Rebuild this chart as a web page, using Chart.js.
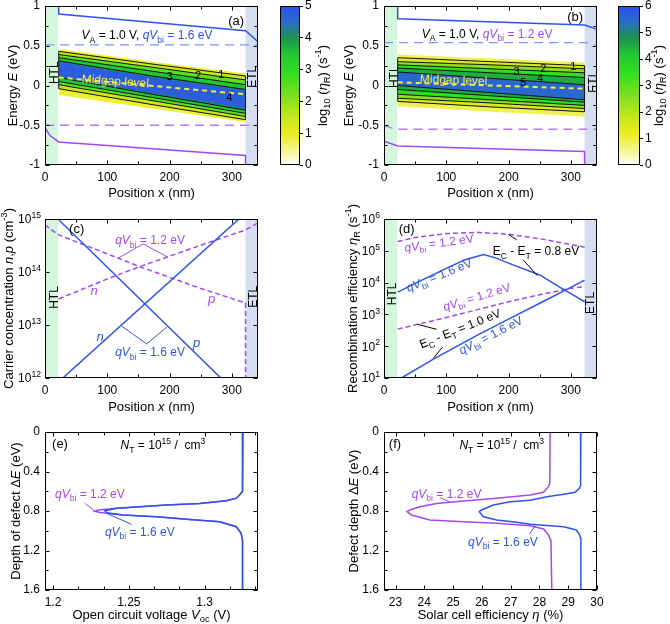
<!DOCTYPE html>
<html><head><meta charset="utf-8">
<script src="https://cdn.jsdelivr.net/npm/chart.js@4.4.1/dist/chart.umd.min.js"></script>
<style>
html,body{margin:0;padding:0;background:#fff;width:670px;height:624px;overflow:hidden}
canvas{position:absolute;left:0;top:0}
</style></head><body>
<canvas id="pa" width="670" height="624"></canvas>
<canvas id="pb" width="670" height="624"></canvas>
<canvas id="pc" width="670" height="624"></canvas>
<canvas id="pd" width="670" height="624"></canvas>
<canvas id="pe" width="670" height="624"></canvas>
<canvas id="pf" width="670" height="624"></canvas>
<canvas id="cba" width="670" height="624"></canvas>
<canvas id="cbb" width="670" height="624"></canvas>
<script>
// ---------------- DATA ----------------
// shared axes
const posTicks = [0, 100, 200, 300];
const posMinor = [50, 150, 250];
const energyTicks = [-1, -0.5, 0, 0.5, 1];
const energyMinor = [-0.75, -0.25, 0.25, 0.75];
const htlRange = [0, 21];
const etlRange = [322, 342];

// (a)/(b) contour bands of log10(eta_R): E position of each level at x = bandX
const bandX = [22, 172, 322];
const aLevels = [0.3, 1, 2, 3, 4, 4.5];
const aUpper = [[0.46, 0.30, 0.15], [0.43, 0.27, 0.12], [0.39, 0.23, 0.07], [0.35, 0.18, 0.01], [0.31, 0.12, -0.05], [0.29, 0.10, -0.07]];
const aLower = [[-0.12, -0.29, -0.46], [-0.04, -0.24, -0.43], [0.01, -0.19, -0.39], [0.05, -0.15, -0.35], [0.10, -0.11, -0.31], [0.12, -0.09, -0.28]];
const bLevels = [0.3, 1, 2, 3, 4, 5];
const bUpper = [[0.39, 0.34, 0.29], [0.35, 0.30, 0.25], [0.30, 0.26, 0.21], [0.26, 0.21, 0.16], [0.22, 0.16, 0.10], [0.17, 0.09, 0.01]];
const bLower = [[-0.26, -0.33, -0.39], [-0.20, -0.27, -0.33], [-0.16, -0.22, -0.29], [-0.11, -0.18, -0.25], [-0.05, -0.13, -0.21], [0.00, -0.09, -0.18]];

// (a) band edges
const aEcX = [22, 22, 322, 345], aEcY = [1.05, 0.90, 0.69, 0.53];
const aEvX = [0, 8, 22, 322, 322], aEvY = [-0.53, -0.63, -0.71, -0.88, -1.05];
const aEcDashX = [0, 345], aEcDashY = [0.51, 0.51];
const aEvDashX = [0, 345], aEvDashY = [-0.50, -0.50];
const aMidX = [22, 322], aMidY = [0.10, -0.11];
// (b) band edges
const bEcX = [22, 22, 322, 345], bEcY = [1.05, 0.84, 0.76, 0.70];
const bEvX = [0, 22, 322, 322], bEvY = [-0.70, -0.76, -0.83, -1.05];
const bEcDashX = [0, 322, 335, 345], bEcDashY = [0.54, 0.54, 0.52, 0.49];
const bEvDashX = [0, 10, 22, 345], bEvDashY = [-0.50, -0.53, -0.55, -0.55];
const bMidX = [22, 322], bMidY = [0.04, -0.04];

// (c) carrier concentration
const cDecades = [12, 13, 14, 15];
const cN16X = [22, 322], cN16Y = [8.5e11, 1.3e15];
const cP16X = [22, 322], cP16Y = [9.7e14, 3.5e11];
const cN12X = [22, 100, 152, 250, 322, 342], cN12Y = [3.1e13, 7.4e13, 1.26e14, 3.2e14, 6.2e14, 8.5e14];
const cP12X = [0, 10, 22, 100, 152, 250, 322, 322], cP12Y = [7.8e14, 6.3e14, 5.0e14, 2.2e14, 1.26e14, 4.9e13, 2.6e13, 5e11];

// (d) recombination efficiency
const dDecades = [1, 2, 3, 4, 5, 6];
const dTop12X = [22, 50, 100, 150, 200, 250, 300, 322];
const dTop12Y = [1.95e5, 2.63e5, 3.47e5, 3.8e5, 3.31e5, 2.4e5, 1.58e5, 1.29e5];
const dTop16X = [22, 50, 100, 130, 160, 180, 200, 250, 280, 300, 322];
const dTop16Y = [5.0e3, 9.5e3, 2.8e4, 5.2e4, 7.6e4, 5.9e4, 4.1e4, 1.74e4, 7.6e3, 4.5e3, 2.5e3];
const dBot12X = [22, 100, 150, 200, 250, 300, 322];
const dBot12Y = [347, 794, 1413, 2512, 4169, 6607, 7413];
const dBot16X = [22, 28, 80, 150, 200, 250, 300, 322];
const dBot16Y = [8.3, 10, 39.8, 224, 708, 2239, 7079, 12023];

// (e) open circuit voltage vs defect depth
const depthTicks = [0, 0.4, 0.8, 1.2, 1.6];
const depthMinor = [0.2, 0.6, 1.0, 1.4];
const vocTicks = [1.2, 1.25, 1.3];
const vocMinor = [1.2167, 1.2333, 1.2667, 1.2833, 1.3167, 1.3333];
const eBlueV = [1.3252, 1.3250, 1.3230, 1.3209, 1.3143, 1.2967, 1.2748, 1.2572, 1.2419, 1.2342, 1.2353, 1.2463, 1.2682, 1.2901, 1.3099, 1.3209, 1.3241, 1.3250, 1.3250];
const eBlueE = [0, 0.60, 0.638, 0.67, 0.696, 0.723, 0.74, 0.757, 0.773, 0.797, 0.817, 0.84, 0.858, 0.885, 0.908, 0.959, 1.026, 1.1, 1.6];
const ePurpV = [1.3252, 1.3250, 1.3230, 1.3209, 1.3143, 1.2967, 1.2748, 1.2572, 1.2400, 1.2300, 1.2276, 1.2310, 1.2400, 1.2463, 1.2682, 1.2901, 1.3099, 1.3209, 1.3241, 1.3250, 1.3250];
const ePurpE = [0, 0.60, 0.638, 0.67, 0.696, 0.723, 0.74, 0.757, 0.775, 0.79, 0.803, 0.815, 0.83, 0.84, 0.858, 0.885, 0.908, 0.959, 1.026, 1.1, 1.6];

// (f) efficiency vs defect depth
const etaTicks = [23, 24, 25, 26, 27, 28, 29, 30];
const fBlueEta = [29.44, 29.43, 29.39, 29.24, 28.84, 28.26, 27.68, 26.98, 26.40, 25.99, 25.91, 26.05, 26.52, 27.21, 27.68, 28.84, 29.28, 29.39, 29.44, 29.44];
const fBlueE = [0, 0.54, 0.57, 0.61, 0.63, 0.655, 0.69, 0.706, 0.74, 0.79, 0.807, 0.858, 0.891, 0.915, 0.935, 0.959, 0.992, 1.04, 1.08, 1.6];
const fPurpEta = [28.37, 28.36, 28.31, 28.14, 27.68, 26.52, 25.35, 24.43, 23.84, 23.50, 23.40, 23.55, 24.19, 25.35, 26.52, 27.68, 28.14, 28.31, 28.40, 28.43];
const fPurpE = [0, 0.52, 0.554, 0.61, 0.638, 0.672, 0.699, 0.723, 0.757, 0.79, 0.807, 0.84, 0.89, 0.908, 0.925, 0.949, 0.982, 1.04, 1.1, 1.6];

// colour bars
const cbATicks = [0, 1, 2, 3, 4, 5];
const cbBTicks = [0, 1, 2, 3, 4, 5, 6];

// ---------------- STYLE ----------------
const FONT = '"Liberation Sans", Arial, Helvetica, sans-serif';
const BLUE = '#2e55e8', PURPLE = '#a449f0', LBLUE = '#7d97f2', LPURP = '#b47cf3', YEL = '#f2ee3a', BLACK = '#000';
const HTL_COL = '#d3f6dc', ETL_COL = '#d6dff1';
const CMAP = [[0, '#ffffff'], [0.08, '#f6f69c'], [0.2, '#ecec1e'], [0.3, '#c6e61e'], [0.42, '#86e01e'], [0.58, '#30df1e'], [0.7, '#22c534'], [0.8, '#1b9450'], [0.9, '#2a6cc8'], [1, '#2c4ef0']];

function hex2rgb(h) { return [1, 3, 5].map(i => parseInt(h.slice(i, i + 2), 16)); }
function cmap(t) {
  t = Math.max(0, Math.min(1, t));
  for (let i = 1; i < CMAP.length; i++) {
    if (t <= CMAP[i][0]) {
      const [t0, c0] = CMAP[i - 1], [t1, c1] = CMAP[i];
      const f = (t - t0) / (t1 - t0), a = hex2rgb(c0), b = hex2rgb(c1);
      return 'rgb(' + a.map((v, k) => Math.round(v + (b[k] - v) * f)).join(',') + ')';
    }
  }
  return CMAP[CMAP.length - 1][1];
}

const P = (xs, ys) => xs.map((x, i) => ({x, y: ys[i]}));
function L(xs, ys, color, width = 1.5, dash = []) {
  return {data: P(xs, ys), borderColor: color, borderWidth: width, borderDash: dash, pointRadius: 0, fill: false, tension: 0};
}
function bandSets(levels, upper, lower, max) {
  const sets = [];
  for (let i = levels.length - 1; i >= 0; i--) {
    const hi = i + 1 < levels.length ? levels[i + 1] : max;
    const col = i === 0 ? cmap(hi / max * 0.9) : cmap(((levels[i] + hi) / 2) / max);
    const line = Number.isInteger(levels[i]) && levels[i] < max ? '#151515' : 'rgba(0,0,0,0)';
    sets.push({data: P(bandX, upper[i]), borderColor: line, borderWidth: 1, pointRadius: 0, fill: '+1', backgroundColor: col});
    sets.push({data: P(bandX, lower[i]), borderColor: line, borderWidth: 1, pointRadius: 0, fill: false});
  }
  sets.push(L([bandX[0], bandX[0]], [lower[1][0], upper[1][0]], '#151515', 1));
  sets.push(L([bandX[2], bandX[2]], [lower[1][2], upper[1][2]], '#151515', 1));
  return sets;
}

function drawRich(ctx, segs, x, y, o = {}) {
  const size = o.size || 13, color = o.color || BLACK;
  ctx.save();
  ctx.translate(x, y);
  ctx.rotate((o.rot || 0) * Math.PI / 180);
  const items = segs.map(s => {
    const [t, st = '', c] = s;
    const small = st.includes('b') || st.includes('p');
    const fs = small ? size * 0.72 : size;
    const font = (st.includes('i') ? 'italic ' : '') + fs + 'px ' + FONT;
    ctx.font = font;
    const w = ctx.measureText(t).width;
    const dy = st.includes('b') ? size * 0.28 : st.includes('p') ? -size * 0.42 : 0;
    return {t, font, w, dy, c: c || color};
  });
  const total = items.reduce((a, b) => a + b.w, 0);
  let cx = o.align === 'center' ? -total / 2 : o.align === 'right' ? -total : 0;
  ctx.textBaseline = 'alphabetic'; ctx.textAlign = 'left';
  const base = size * 0.36;
  for (const it of items) { ctx.font = it.font; ctx.fillStyle = it.c; ctx.fillText(it.t, cx, base + it.dy); cx += it.w; }
  ctx.restore();
}

function decor(spec) {
  return {
    id: 'decor',
    beforeDraw(chart) {
      const {ctx, chartArea: a} = chart; const x = chart.scales.x;
      ctx.save();
      [[spec.htl, HTL_COL], [spec.etl, ETL_COL]].forEach(([r, col]) => {
        if (!r) return;
        const x0 = Math.max(a.left, x.getPixelForValue(r[0])), x1 = Math.min(a.right, x.getPixelForValue(r[1]));
        ctx.fillStyle = col; ctx.fillRect(x0, a.top, x1 - x0, a.bottom - a.top);
      });
      ctx.restore();
    },
    afterDraw(chart) {
      const {ctx, chartArea: a, scales} = chart; const x = scales.x, y = scales.y;
      ctx.save();
      ctx.strokeStyle = BLACK; ctx.lineWidth = 1;
      const l = Math.round(a.left) + 0.5, r = Math.round(a.right) - 0.5, t = Math.round(a.top) + 0.5, b = Math.round(a.bottom) - 0.5;
      const seg = (x1, y1, x2, y2) => { ctx.beginPath(); ctx.moveTo(x1, y1); ctx.lineTo(x2, y2); ctx.stroke(); };
      if (spec.ticks) {
        const xs = [...x.ticks.map(tk => [tk.value, 4]), ...(spec.xMinor || []).map(v => [v, 3])];
        xs.forEach(([v, len]) => { const p = Math.round(x.getPixelForValue(v)) + 0.5; seg(p, b, p, b - len); seg(p, t, p, t + len); });
        const ys = [...y.ticks.map(tk => [tk.value, 4]), ...(spec.yMinor || []).map(v => [v, 3])];
        ys.forEach(([v, len]) => { const p = Math.round(y.getPixelForValue(v)) + 0.5; seg(l, p, l + len, p); seg(r, p, r - len, p); });
      }
      ctx.strokeRect(l, t, r - l, b - t);
      if (spec.decades) spec.decades.forEach(k => drawRich(ctx, [['10', ''], [String(k), 'p']], a.left - 4, y.getPixelForValue(Math.pow(10, k)), {size: 12, align: 'right'}));
      (spec.lines || []).forEach(ln => {
        ctx.strokeStyle = ln.color || BLACK; ctx.lineWidth = ln.width || 1; ctx.setLineDash([]);
        ctx.beginPath();
        ln.pts.forEach(([px, py], i) => { const X = x.getPixelForValue(px), Y = y.getPixelForValue(py); i ? ctx.lineTo(X, Y) : ctx.moveTo(X, Y); });
        ctx.stroke();
      });
      (spec.texts || []).forEach(tx => drawRich(ctx, tx.segs, x.getPixelForValue(tx.at[0]), y.getPixelForValue(tx.at[1]), tx));
      if (spec.xTitle) drawRich(ctx, spec.xTitle.segs, (a.left + a.right) / 2, a.bottom + spec.xTitle.dy, {size: 13, align: 'center'});
      if (spec.yTitle) drawRich(ctx, spec.yTitle.segs, a.left - spec.yTitle.dx, (a.top + a.bottom) / 2, {size: 13, align: 'center', rot: -90});
      if (spec.rTitle) drawRich(ctx, spec.rTitle.segs, a.right + spec.rTitle.dx, (a.top + a.bottom) / 2, {size: 13, align: 'center', rot: -90});
      ctx.restore();
    }
  };
}

const fmt = v => String(Math.round(v * 1000) / 1000);
function axis(pos, min, max, ticks, o = {}) {
  const isX = pos === 'bottom';
  return {
    type: o.log ? 'logarithmic' : 'linear', position: pos, min, max, reverse: !!o.reverse,
    afterBuildTicks: s => { s.ticks = ticks.map(v => ({value: v})); },
    afterFit: s => { if (isX) s.height = 20; else s.width = o.width || 40; s.paddingLeft = 0; s.paddingRight = 0; s.paddingTop = 0; s.paddingBottom = 0; },
    grid: {display: false, drawTicks: false}, border: {display: false},
    ticks: {display: !o.log, color: BLACK, font: {family: FONT, size: 12}, padding: 5, maxRotation: 0, minRotation: 0, autoSkip: false, callback: v => fmt(v)}
  };
}

function panel(id, rect, datasets, scales, spec) {
  const [Lf, T, R, B] = rect;
  new Chart(document.getElementById(id), {
    type: 'line',
    data: {datasets},
    options: {
      responsive: false, animation: false, devicePixelRatio: 1, events: [],
      layout: {padding: {left: Lf - 40, top: T, right: 670 - R, bottom: 624 - B - 20}},
      elements: {point: {radius: 0}, line: {tension: 0}},
      plugins: {legend: {display: false}, tooltip: {enabled: false}, title: {display: false}, filler: {drawTime: 'beforeDatasetsDraw', propagate: false}},
      scales
    },
    plugins: [decor(spec)]
  });
}

function colorbar(id, rect, maxV, ticks, title, dx) {
  const [Lf, T, R, B] = rect;
  new Chart(document.getElementById(id), {
    type: 'bar',
    data: {labels: ['log'], datasets: [{data: [maxV], borderWidth: 0, barPercentage: 1, categoryPercentage: 1,
      backgroundColor: c => {
        const a = c.chart.chartArea; if (!a) return 'rgba(0,0,0,0)';
        const g = c.chart.ctx.createLinearGradient(0, a.bottom, 0, a.top);
        CMAP.forEach(([t, col]) => g.addColorStop(t, col));
        return g;
      }}]},
    options: {
      responsive: false, animation: false, devicePixelRatio: 1, events: [],
      layout: {padding: {left: Lf, top: T, right: 670 - R - 25, bottom: 624 - B}},
      plugins: {legend: {display: false}, tooltip: {enabled: false}},
      scales: {
        x: {display: false},
        y: {position: 'right', min: 0, max: maxV,
          afterBuildTicks: s => { s.ticks = ticks.map(v => ({value: v})); },
          afterFit: s => { s.width = 25; s.paddingTop = 0; s.paddingBottom = 0; },
          grid: {display: true, drawOnChartArea: false, drawTicks: true, tickLength: 3, color: BLACK, lineWidth: 1},
          border: {display: false},
          ticks: {padding: 2, color: BLACK, font: {family: FONT, size: 12}, callback: v => fmt(v)}}
      }
    },
    plugins: [decor({rTitle: {segs: title, dx}})]
  });
}

// ---------------- LABEL HELPERS ----------------
const qV = (v, c) => [['q', 'i', c], ['V', 'i', c], ['bi', 'b', c], [' = ' + v + ' eV', '', c]];
const T = (at, segs, o = {}) => Object.assign({at, segs, size: 12, align: 'center'}, o);
const vaLabel = (v, c) => [['V', 'i'], ['A', 'b'], [' = 1.0 V, ', '']].concat(qV(v, c));
const energyTitle = {segs: [['Energy ', ''], ['E', 'i'], [' (eV)', '']]};
const cbTitle = [['log', ''], ['10', 'b'], [' (', ''], ['η', 'i'], ['R', 'b'], [') (s', ''], ['-1', 'p'], [')', '']];
const ntLabel = [['N', 'i'], ['T', 'b'], [' = 10', ''], ['15', 'p'], [' /  cm', ''], ['3', 'p']];

// ---------------- PANEL (a) ----------------
panel('pa', [45, 6, 258, 165],
  [L(aEcX, aEcY, BLUE), L(aEvX, aEvY, PURPLE), L(aEcDashX, aEcDashY, LBLUE, 1.3, [9, 6]), L(aEvDashX, aEvDashY, LPURP, 1.3, [9, 6]),
   L(aMidX, aMidY, YEL, 2, [5, 4])].concat(bandSets(aLevels, aUpper, aLower, 5)),
  {x: axis('bottom', 0, 342, posTicks), y: axis('left', -1, 1, energyTicks)},
  {htl: htlRange, etl: etlRange, ticks: true, xMinor: posMinor, yMinor: energyMinor,
   xTitle: {segs: [['Position x (nm)', '']], dy: 27}, yTitle: {segs: energyTitle.segs, dx: 33},
   texts: [
     T([58.8, 0.635], vaLabel('1.6', BLUE), {align: 'left'}),
     T([307, 0.82], [['(a)', '']], {size: 13}),
     T([59, 0.09], [['Midgap level', '', YEL]], {align: 'left', rot: 4}),
     T([200, 0.12], [['3', '']], {size: 11}), T([245.6, 0.13], [['2', '']], {size: 11}),
     T([283, 0.15], [['1', '']], {size: 11}), T([296, -0.15], [['4', '']], {size: 11}),
     T([13.3, 0.16], [['HTL', '']], {rot: -90}), T([332, 0.11], [['ETL', '']], {rot: -90})
   ]});

// ---------------- PANEL (b) ----------------
panel('pb', [384, 6, 597, 165],
  [L(bEcX, bEcY, BLUE), L(bEvX, bEvY, PURPLE), L(bEcDashX, bEcDashY, LBLUE, 1.3, [9, 6]), L(bEvDashX, bEvDashY, LPURP, 1.3, [9, 6]),
   L(bMidX, bMidY, YEL, 2, [5, 4])].concat(bandSets(bLevels, bUpper, bLower, 6)),
  {x: axis('bottom', 0, 342, posTicks), y: axis('left', -1, 1, energyTicks)},
  {htl: htlRange, etl: etlRange, ticks: true, xMinor: posMinor, yMinor: energyMinor,
   xTitle: {segs: [['Position x (nm)', '']], dy: 27}, yTitle: {segs: energyTitle.segs, dx: 36},
   texts: [
     T([60.5, 0.657], vaLabel('1.2', PURPLE), {align: 'left'}),
     T([307, 0.865], [['(b)', '']], {size: 13}),
     T([57.8, 0.09], [['Midgap level', '', YEL]], {align: 'left', rot: 2}),
     T([304, 0.245], [['1', '']], {size: 11}), T([255.8, 0.216], [['2', '']], {size: 11}),
     T([213, 0.186], [['3', '']], {size: 11}), T([250.5, 0.09], [['4', '']], {size: 11}),
     T([223.7, 0.048], [['5', '']], {size: 11}),
     T([14.9, 0.11], [['HTL', '']], {rot: -90}), T([334.5, 0.048], [['ETL', '']], {rot: -90})
   ]});

colorbar('cba', [280, 6, 300, 165], 5, cbATicks, cbTitle, 22);
colorbar('cbb', [618, 6, 640, 165], 6, cbBTicks, cbTitle, 18);

// ---------------- PANEL (c) ----------------
panel('pc', [45, 219, 258, 378],
  [L(cN16X, cN16Y, BLUE), L(cP16X, cP16Y, BLUE), L(cN12X, cN12Y, PURPLE, 1.5, [5, 3]), L(cP12X, cP12Y, PURPLE, 1.5, [5, 3])],
  {x: axis('bottom', 0, 342, posTicks), y: axis('left', 1e12, 1e15, cDecades.map(k => Math.pow(10, k)), {log: true})},
  {htl: htlRange, etl: etlRange, ticks: true, xMinor: posMinor, decades: cDecades,
   xTitle: {segs: [['Position ', ''], ['x', 'i'], [' (nm)', '']], dy: 28},
   yTitle: {segs: [['Carrier concentration ', ''], ['n', 'i'], [',', ''], ['p', 'i'], [' (cm', ''], ['-3', 'p'], [')', '']], dx: 37},
   lines: [
     {pts: [[117.4, 1.82e14], [157.5, 3.39e14], [197.5, 1.9e14]], color: PURPLE},
     {pts: [[123.2, 9.5e12], [163.3, 4.4e12], [195.4, 9.1e12]], color: BLUE}
   ],
   texts: [
     T([50.9, 6.8e14], [['(c)', '']], {size: 13}),
     T([168.6, 4.0e14], qV('1.2', PURPLE)),
     T([78.7, 4.6e13], [['n', 'i', PURPLE]], {size: 13}),
     T([267.7, 3.2e13], [['p', 'i', PURPLE]], {size: 13}),
     T([88.3, 6.0e12], [['n', 'i', BLUE]], {size: 13}),
     T([243.6, 4.8e12], [['p', 'i', BLUE]], {size: 13}),
     T([168.6, 3.1e12], qV('1.6', BLUE)),
     T([13.3, 3.3e13], [['HTL', '']], {rot: -90}), T([332.9, 3.4e13], [['ETL', '']], {rot: -90})
   ]});

// ---------------- PANEL (d) ----------------
const ecet = v => [['E', ''], ['C', 'b'], [' - ', ''], ['E', ''], ['T', 'b'], [' = ' + v + ' eV', '']];
panel('pd', [384, 219, 597, 378],
  [L(dTop16X, dTop16Y, BLUE), L(dBot16X, dBot16Y, BLUE), L(dTop12X, dTop12Y, PURPLE, 1.5, [5, 3]), L(dBot12X, dBot12Y, PURPLE, 1.5, [5, 3])],
  {x: axis('bottom', 0, 342, posTicks), y: axis('left', 10, 1e6, dDecades.map(k => Math.pow(10, k)), {log: true})},
  {htl: htlRange, etl: etlRange, ticks: true, xMinor: posMinor, decades: dDecades,
   xTitle: {segs: [['Position ', ''], ['x', 'i'], [' (nm)', '']], dy: 28},
   yTitle: {segs: [['Recombination efficiency ', ''], ['η', 'i'], ['R', 'b'], [' (s', ''], ['-1', 'p'], [')', '']], dx: 32},
   lines: [
     {pts: [[213.1, 2.2e5], [199.6, 3.3e5]]},
     {pts: [[223.7, 5.1e4], [246.1, 1.66e4]]},
     {pts: [[53.5, 490], [84.6, 339]]},
     {pts: [[79.2, 41.7], [94.3, 95]]}
   ],
   texts: [
     T([36.4, 5.1e5], [['(d)', '']], {size: 13}),
     T([88.3, 1.8e5], qV('1.2', PURPLE), {rot: -8}),
     T([174.5, 9.8e4], ecet('0.8'), {align: 'left'}),
     T([88.3, 1.74e4], qV('1.6', BLUE), {rot: -22}),
     T([148.8, 3.6e3], qV('1.2', PURPLE), {rot: -17}),
     T([122, 363], ecet('1.0'), {rot: -22}),
     T([171.3, 224], qV('1.6', BLUE), {rot: -27}),
     T([12.4, 4.4e3], [['HTL', '']], {rot: -90}), T([330.8, 2.3e3], [['ETL', '']], {rot: -90})
   ]});

// ---------------- PANEL (e) ----------------
panel('pe', [45, 432, 258, 590],
  [L(eBlueV, eBlueE, BLUE), L(ePurpV, ePurpE, PURPLE)],
  {x: axis('bottom', 1.1947, 1.3352, vocTicks), y: axis('left', 0, 1.6, depthTicks, {reverse: true})},
  {ticks: true, xMinor: vocMinor, yMinor: depthMinor,
   xTitle: {segs: [['Open circuit voltage ', ''], ['V', 'i'], ['oc', 'b'], [' (V)', '']], dy: 24},
   yTitle: {segs: [['Depth of defect Δ', ''], ['E', 'i'], [' (eV)', '']], dx: 30},
   lines: [
     {pts: [[1.2210, 0.722], [1.2276, 0.80]], color: PURPLE},
     {pts: [[1.2353, 0.823], [1.2517, 0.935]], color: BLUE}
   ],
   texts: [
     T([1.2046, 0.114], [['(e)', '']], {size: 13}),
     T([1.2725, 0.13], ntLabel),
     T([1.2013, 0.62], qV('1.2', PURPLE), {align: 'left'}),
     T([1.2342, 1.01], qV('1.6', BLUE), {align: 'left'})
   ]});

// ---------------- PANEL (f) ----------------
panel('pf', [384, 432, 597, 590],
  [L(fBlueEta, fBlueE, BLUE), L(fPurpEta, fPurpE, PURPLE)],
  {x: axis('bottom', 22.6, 30, etaTicks), y: axis('left', 0, 1.6, depthTicks, {reverse: true})},
  {ticks: true, yMinor: depthMinor,
   xTitle: {segs: [['Solar cell efficiency ', ''], ['η', 'i'], [' (%)', '']], dy: 24},
   yTitle: {segs: [['Defect depth Δ', ''], ['E', 'i'], [' (eV)', '']], dx: 31},
   lines: [
     {pts: [[24.55, 0.665], [24.9, 0.71]], color: PURPLE},
     {pts: [[27.66, 1.03], [27.85, 0.95]], color: BLUE}
   ],
   texts: [
     T([22.98, 0.114], [['(f)', '']], {size: 13}),
     T([26.69, 0.13], ntLabel),
     T([23.56, 0.62], qV('1.2', PURPLE), {align: 'left'}),
     T([25.52, 1.11], qV('1.6', BLUE), {align: 'left'})
   ]});
</script></body></html>
